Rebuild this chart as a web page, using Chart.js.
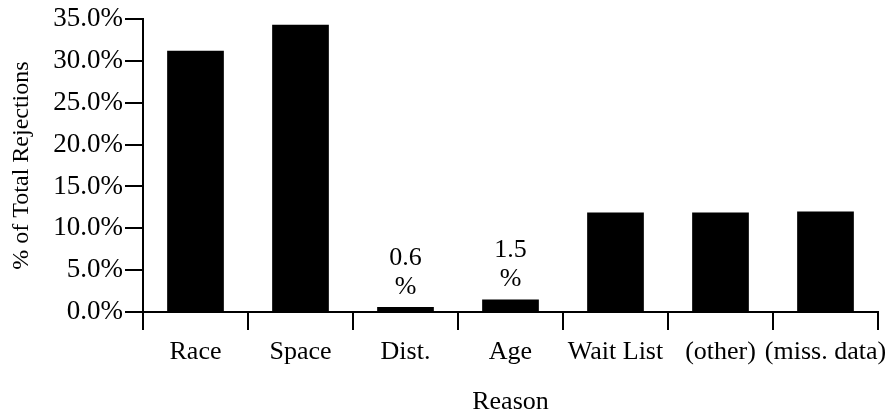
<!DOCTYPE html>
<html>
<head>
<meta charset="utf-8">
<script src="https://cdn.jsdelivr.net/npm/chart.js@4.4.1/dist/chart.umd.min.js"></script>
<style>
  html, body { margin: 0; padding: 0; background: #fff; }
</style>
</head>
<body>
<canvas id="rejectChart" width="890" height="415"></canvas>
<script>
var reasons = ['Race', 'Space', 'Dist.', 'Age', 'Wait List', '(other)', '(miss. data)'];
var rejectPct = [31.2, 34.3, 0.6, 1.5, 11.9, 11.9, 12.0];
// only the two tiny bars carry a printed value
var barNotes = ['', '', '0.6', '1.5', '', '', ''];
var yMax = 35;
var yStep = 5;

var serif = '"Liberation Serif", "Times New Roman", serif';

var notePlugin = {
    id: 'notePlugin',
    afterDatasetsDraw: function(chart) {
    var ctx = chart.ctx;
    var bars = chart.getDatasetMeta(0).data;
    ctx.save();
    ctx.fillStyle = '#000';
    ctx.textAlign = 'center';
    ctx.textBaseline = 'middle';
    ctx.font = '26px ' + serif;
    bars.forEach(function(bar, i) {
        if (!barNotes[i]) return;
        ctx.fillText(barNotes[i], bar.x, bar.y - 49);
        ctx.fillText('%', bar.x, bar.y - 20);
    });
    ctx.restore();
    }
};

var ctxRej = document.getElementById('rejectChart').getContext('2d');
var rejectChart = new Chart(ctxRej, {
    type: 'bar',
    data: {
    labels: reasons,
    datasets: [{
        label: '% of Total Rejections',
        data: rejectPct,
        backgroundColor: '#000',
        borderWidth: 0,
        barPercentage: 0.54,
        categoryPercentage: 1
    }]
    },
    options: {
    responsive: false,
    animation: false,
    layout: {
        padding: { top: 19, right: 12, left: 0, bottom: 0 }
    },
    scales: {
        x: {
        afterFit: function(scale) {
            scale.height = 103;
            // let the last label run into the right margin like the original
            scale.paddingRight = 0;
        },
        border: { display: true, color: '#000', width: 2 },
        grid: {
            drawOnChartArea: false,
            drawTicks: true,
            tickLength: 18,
            color: '#000',
            lineWidth: 2
        },
        ticks: {
            color: '#000',
            font: { family: serif, size: 26 },
            padding: 7,
            autoSkip: false,
            maxRotation: 0,
            minRotation: 0
        },
        title: {
            display: true,
            text: 'Reason',
            color: '#000',
            font: { family: serif, size: 26, lineHeight: 1 },
            padding: { top: 0, bottom: 0 }
        }
        },
        y: {
        min: 0,
        max: yMax,
        afterFit: function(scale) { scale.width = 143; },
        border: { display: true, color: '#000', width: 2 },
        grid: {
            drawOnChartArea: false,
            drawTicks: true,
            tickLength: 18,
            color: '#000',
            lineWidth: 2
        },
        ticks: {
            stepSize: yStep,
            color: '#000',
            font: { family: serif, size: 27 },
            padding: 2,
            callback: function(v) { return v.toFixed(1) + '%'; }
        },
        title: {
            display: true,
            text: '% of Total Rejections',
            color: '#000',
            font: { family: serif, size: 24, lineHeight: 1 },
            padding: { top: 10, bottom: 0 }
        }
        }
    },
    plugins: {
        legend: { display: false },
        tooltip: { enabled: false }
    }
    },
    plugins: [notePlugin]
});
</script>
</body>
</html>
